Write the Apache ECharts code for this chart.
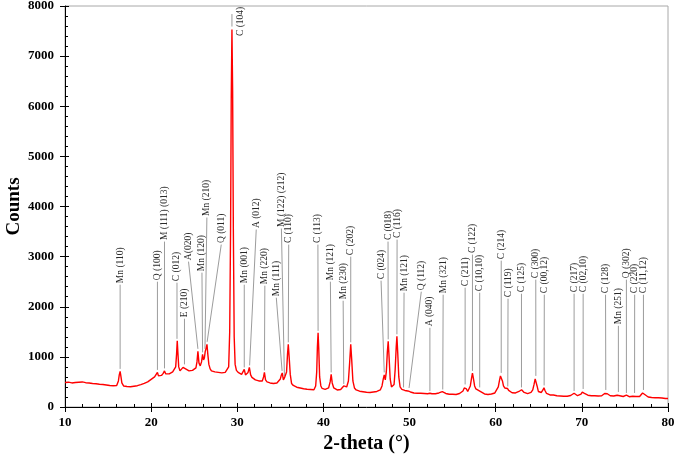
<!DOCTYPE html>
<html>
<head>
<meta charset="utf-8">
<script src="https://cdn.jsdelivr.net/npm/echarts@6/dist/echarts.min.js"></script>
<style>html,body{margin:0;padding:0;background:#fff}#c{width:678px;height:457px}</style>
</head>
<body>
<div id="c"></div>
<script>
// X-ray diffraction scan: [2-theta (deg), counts]
const scan = [
[10.0,490],[10.2,510],[10.4,495],[10.6,505],[10.8,480],[11.0,500],[11.2,490],[11.4,470],[11.6,495],[11.8,480],
[12.0,500],[12.2,475],[12.4,485],[12.6,465],[12.8,480],[13.0,460],[13.2,470],[13.4,450],[13.6,465],[13.8,445],
[14.0,455],[14.2,440],[14.4,450],[14.6,430],[14.8,440],[15.0,420],[15.2,430],[15.4,410],[15.6,425],[15.8,415],
[16.0,430],[16.2,520],[16.3,640],[16.4,710],[16.5,600],[16.6,480],[16.8,420],[17.0,400],[17.2,410],[17.4,390],
[17.6,405],[17.8,395],[18.0,415],[18.2,405],[18.4,425],[18.6,420],[18.8,445],[19.0,450],[19.2,470],[19.4,490],
[19.6,500],[19.8,530],[20.0,550],[20.2,580],[20.4,600],[20.6,630],[20.73,690],[20.85,620],[21.0,640],[21.2,630],
[21.4,670],[21.55,720],[21.7,660],[21.9,680],[22.1,660],[22.3,690],[22.5,700],[22.7,730],[22.85,800],[22.95,1050],
[23.03,1320],[23.1,1100],[23.2,800],[23.35,720],[23.5,740],[23.7,790],[23.87,810],[24.0,760],[24.2,730],[24.4,720],
[24.6,750],[24.8,730],[25.0,760],[25.2,780],[25.32,900],[25.43,1110],[25.55,880],[25.7,820],[25.85,900],[25.97,1050],
[26.08,940],[26.18,980],[26.28,1110],[26.4,1180],[26.48,1250],[26.58,1050],[26.7,850],[26.85,760],[27.0,720],[27.2,690],
[27.4,700],[27.6,670],[27.8,690],[28.0,670],[28.2,680],[28.4,660],[28.6,690],[28.8,680],[29.0,800],[29.12,1500],
[29.22,3500],[29.3,6200],[29.38,7530],[29.46,6300],[29.54,3600],[29.64,1400],[29.75,850],[29.9,730],[30.1,690],[30.3,670],
[30.5,650],[30.7,660],[30.81,750],[30.95,640],[31.1,660],[31.25,690],[31.4,790],[31.55,640],[31.7,590],[31.9,560],
[32.1,540],[32.3,530],[32.5,520],[32.7,510],[32.9,520],[33.05,600],[33.15,690],[33.28,540],[33.45,500],[33.6,490],
[33.8,480],[34.0,475],[34.2,470],[34.4,475],[34.6,480],[34.8,500],[35.0,560],[35.12,640],[35.22,680],[35.35,540],
[35.47,580],[35.6,560],[35.72,700],[35.83,1050],[35.92,1250],[36.02,1000],[36.15,650],[36.3,470],[36.5,430],[36.7,410],
[36.9,395],[37.1,390],[37.3,380],[37.5,375],[37.7,365],[37.9,360],[38.1,355],[38.3,345],[38.5,350],[38.7,340],
[38.9,345],[39.1,420],[39.22,700],[39.3,1200],[39.38,1480],[39.46,1150],[39.56,600],[39.7,420],[39.85,370],[40.0,360],
[40.2,350],[40.4,355],[40.6,380],[40.78,500],[40.9,650],[41.02,480],[41.2,380],[41.4,350],[41.6,340],[41.8,345],
[42.0,350],[42.2,380],[42.36,420],[42.5,390],[42.7,400],[42.9,520],[43.05,900],[43.17,1250],[43.28,950],[43.42,520],
[43.6,380],[43.8,340],[44.0,320],[44.2,315],[44.4,310],[44.6,305],[44.8,300],[45.0,295],[45.2,300],[45.4,290],
[45.6,295],[45.8,300],[46.0,305],[46.2,310],[46.4,320],[46.6,340],[46.8,420],[46.95,560],[47.06,640],[47.18,540],
[47.3,700],[47.42,1100],[47.52,1310],[47.62,1000],[47.75,560],[47.9,400],[48.05,390],[48.2,450],[48.33,750],[48.45,1200],
[48.53,1410],[48.62,1100],[48.75,600],[48.9,400],[49.1,350],[49.3,350],[49.45,330],[49.6,325],[49.8,320],[49.94,335],
[50.1,300],[50.3,290],[50.5,280],[50.7,285],[50.9,275],[51.1,270],[51.3,275],[51.5,265],[51.7,270],[51.9,260],
[52.1,265],[52.36,275],[52.6,265],[52.8,270],[53.0,265],[53.2,275],[53.4,280],[53.6,290],[53.8,305],[54.0,285],
[54.2,270],[54.4,260],[54.6,255],[54.8,265],[55.0,255],[55.2,260],[55.4,250],[55.6,265],[55.8,270],[56.0,285],
[56.2,320],[56.35,380],[56.45,410],[56.6,360],[56.75,310],[56.9,330],[57.05,420],[57.2,580],[57.3,675],[57.42,560],
[57.55,420],[57.7,360],[57.85,340],[58.0,330],[58.14,345],[58.3,300],[58.5,270],[58.7,260],[58.9,255],[59.1,250],
[59.3,255],[59.5,260],[59.7,265],[59.9,280],[60.1,310],[60.3,400],[60.45,540],[60.55,620],[60.65,630],[60.78,520],
[60.9,420],[61.05,380],[61.2,360],[61.36,370],[61.5,330],[61.7,300],[61.9,285],[62.1,275],[62.3,280],[62.5,290],
[62.7,310],[62.85,330],[63.0,345],[63.15,320],[63.3,290],[63.5,275],[63.7,265],[63.9,270],[64.1,290],[64.3,340],
[64.45,450],[64.58,560],[64.68,575],[64.8,420],[64.95,310],[65.1,285],[65.3,290],[65.48,340],[65.6,385],[65.72,330],
[65.9,270],[66.1,255],[66.3,240],[66.5,235],[66.7,240],[66.9,230],[67.1,225],[67.3,230],[67.5,220],[67.7,225],
[67.9,215],[68.1,220],[68.3,215],[68.5,225],[68.7,230],[68.9,245],[69.1,275],[69.3,245],[69.5,225],[69.7,230],
[69.9,255],[70.05,295],[70.15,315],[70.3,270],[70.5,245],[70.7,235],[70.9,230],[71.1,225],[71.3,220],[71.5,225],
[71.7,215],[71.9,220],[72.1,215],[72.3,225],[72.5,235],[72.65,270],[72.8,300],[72.95,265],[73.1,235],[73.3,225],
[73.5,215],[73.7,220],[73.9,215],[74.1,235],[74.25,255],[74.4,225],[74.6,215],[74.8,210],[75.0,220],[75.17,235],
[75.35,210],[75.5,205],[75.7,210],[75.9,215],[76.1,235],[76.3,210],[76.5,205],[76.7,210],[76.9,235],[77.05,280],
[77.15,295],[77.3,250],[77.5,215],[77.7,200],[77.9,195],[78.1,190],[78.3,195],[78.5,185],[78.7,180],[78.9,185],
[79.1,175],[79.3,180],[79.5,175],[79.7,170],[79.9,175],[80.0,170]
];

// Phase annotations: [label, peak 2-theta, line bottom counts, label 2-theta, label base counts]
const annotations = [
['Mn (110)',16.40,760,16.40,2440],
['Q (100)',20.73,740,20.73,2500],
['M (111) (013)',21.55,770,21.55,3300],
['C (012)',23.00,1360,23.00,2480],
['E (210)',23.87,850,23.87,1760],
['A(020)',25.43,1160,24.34,2900],
['Mn (120)',25.97,1090,25.90,2680],
['Mn (210)',26.25,1160,26.47,3780],
['Q (011)',26.50,1300,28.14,3240],
['C (104)',29.38,7590,29.38,7840],
['Mn (001)',30.81,790,30.81,2440],
['A (012)',31.43,830,32.20,3540],
['Mn (220)',33.15,730,33.20,2420],
['Mn (111)',35.20,720,34.53,2180],
['M (122) (212)',35.47,620,35.12,3560],
['C (110)',35.92,1290,35.97,3240],
['C (113)',39.38,1520,39.36,3240],
['Mn (121)',40.90,690,40.81,2500],
['Mn (230)',42.36,460,42.29,2120],
['C (202)',43.17,1290,43.17,3000],
['C (024)',47.06,690,46.69,2520],
['C (018)',47.52,1350,47.50,3300],
['C (116)',48.53,1450,48.55,3340],
['Mn (121)',49.30,390,49.36,2280],
['Q (112)',49.94,380,51.36,2300],
['A (040)',52.36,320,52.36,1580],
['Mn (321)',53.85,350,53.90,2240],
['C (211)',56.45,450,56.45,2380],
['C (122)',57.30,720,57.30,3040],
['C (10,10)',58.14,390,58.14,2280],
['C (214)',60.64,680,60.64,2920],
['C (119)',61.40,410,61.43,2160],
['C (125)',62.99,390,62.99,2260],
['C (300)',64.66,620,64.65,2540],
['C (00,12)',65.62,430,65.64,2240],
['C (217)',69.10,320,69.10,2260],
['C (02,10)',70.15,360,70.15,2260],
['C (128)',72.78,340,72.75,2240],
['Mn (251)',74.24,300,74.24,1620],
['Q (302)',75.17,280,75.17,2540],
['C (220)',76.12,280,76.13,2240],
['C (11,12)',77.15,340,77.15,2240]
];
// labels written beside their line instead of above it: [label 2-theta, label base counts]
const sideLabels = { 'C (104)': [30.43, 7400] };

const xTicks = { min: 10, max: 80, step: 10 };
const yTicks = { min: 0, max: 8000, step: 1000 };

const serif = '"Liberation Serif", "DejaVu Serif", serif';
const chart = echarts.init(document.getElementById('c'), null, { renderer: 'canvas' });

const tickLabel = { color: '#000', fontFamily: serif, fontWeight: 'bold', fontSize: 13, formatter: v => String(v) };

chart.setOption({
  animation: false,
  backgroundColor: '#fff',
  grid: { left: 65, right: 10, top: 6, bottom: 50, show: true, borderColor: '#a8a8a8', borderWidth: 1,
          containLabel: false, outerBoundsMode: 'none' },
  xAxis: [{
    type: 'value', min: xTicks.min, max: xTicks.max, interval: xTicks.step,
    name: '2-theta (°)', nameLocation: 'middle', nameGap: 27, nameMoveOverlap: false,
    nameTextStyle: { color: '#000', fontFamily: serif, fontWeight: 'bold', fontSize: 20 },
    axisLine: { show: true, onZero: false, lineStyle: { color: '#000', width: 1 } },
    axisTick: { show: true, inside: false, length: 5, lineStyle: { color: '#000' } },
    minorTick: { show: false },
    axisLabel: Object.assign({ margin: 9 }, tickLabel),
    splitLine: { show: false }
  }, {
    type: 'value', min: xTicks.min, max: xTicks.max, interval: xTicks.step, position: 'bottom',
    axisLine: { show: false },
    axisTick: { show: true, inside: true, length: 4, lineStyle: { color: '#000' } },
    minorTick: { show: true, splitNumber: 5, length: 3, lineStyle: { color: '#000' } },
    axisLabel: { show: false }, splitLine: { show: false }
  }],
  yAxis: [{
    type: 'value', min: yTicks.min, max: yTicks.max, interval: yTicks.step,
    name: 'Counts', nameLocation: 'middle', nameGap: 41, nameMoveOverlap: false,
    nameTextStyle: { color: '#000', fontFamily: serif, fontWeight: 'bold', fontSize: 19 },
    axisLine: { show: true, onZero: false, lineStyle: { color: '#000', width: 1 } },
    axisTick: { show: true, inside: false, length: 5, lineStyle: { color: '#000' } },
    minorTick: { show: false },
    axisLabel: Object.assign({ margin: 11 }, tickLabel),
    splitLine: { show: false }
  }, {
    type: 'value', min: yTicks.min, max: yTicks.max, interval: yTicks.step, position: 'left',
    axisLine: { show: false },
    axisTick: { show: true, inside: true, length: 4, lineStyle: { color: '#000' } },
    minorTick: { show: true, splitNumber: 5, length: 3, lineStyle: { color: '#000' } },
    axisLabel: { show: false }, splitLine: { show: false }
  }],
  series: [{
    type: 'custom',
    xAxisIndex: 0, yAxisIndex: 0,
    data: annotations.map(a => [a[1], a[2], a[3], a[4]]),
    encode: { x: [0, 2], y: [1, 3] },
    clip: false,
    silent: true,
    z: 1,
    renderItem: function (params, api) {
      const a = annotations[params.dataIndex];
      const p0 = api.coord([api.value(0), api.value(1)]);
      const p1 = api.coord([api.value(2), api.value(3)]);
      const side = sideLabels[a[0]];
      const tp = side ? api.coord(side) : [p1[0], p1[1] - 1.5];
      return {
        type: 'group',
        children: [
          { type: 'line', shape: { x1: p0[0], y1: p0[1], x2: p1[0], y2: p1[1] },
            style: { stroke: '#9c9c9c', lineWidth: 1 } },
          { type: 'text', x: tp[0], y: tp[1], rotation: Math.PI / 2,
            style: { text: a[0], fill: '#2a2a2a', font: '9.5px ' + serif, align: 'left', verticalAlign: 'middle' } }
        ]
      };
    }
  }, {
    type: 'line',
    xAxisIndex: 0, yAxisIndex: 0,
    data: scan,
    showSymbol: false,
    symbol: 'none',
    z: 3,
    lineStyle: { color: '#ff0000', width: 1.4 }
  }]
});
</script>
</body>
</html>
